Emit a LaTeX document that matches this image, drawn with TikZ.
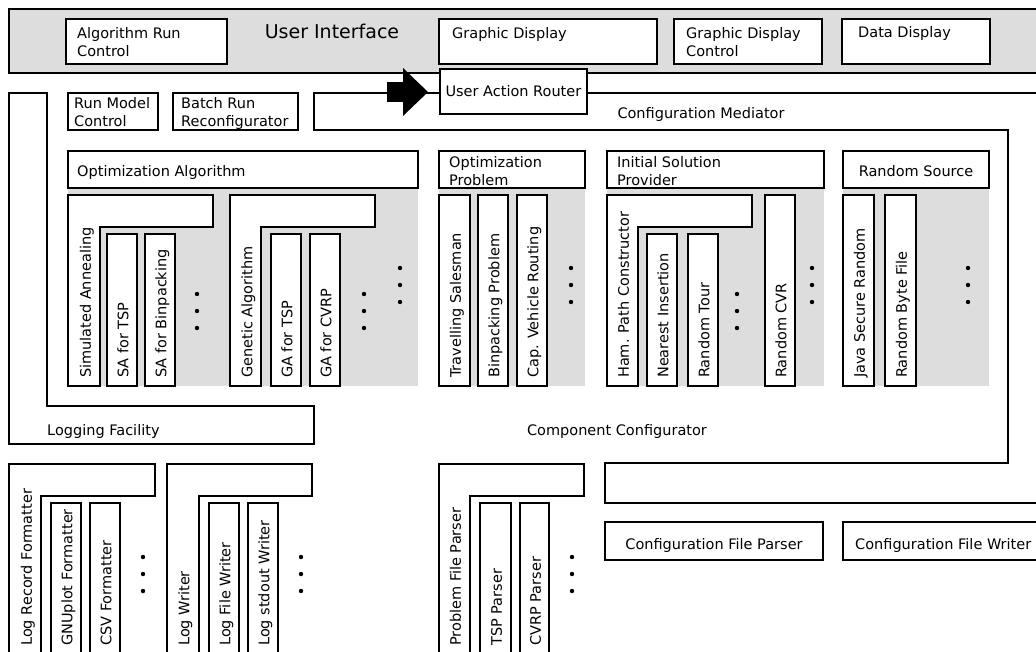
\documentclass[tikz,border=0pt]{standalone}
\usepackage{fontspec}
\setmainfont{DejaVu Sans}
\usetikzlibrary{arrows.meta}
\definecolor{panel}{RGB}{221,221,221}

\tikzset{
  box/.style={draw=black, fill=white, line width=1.8pt, line join=miter},
  edge/.style={draw=black, line width=1.8pt, line join=miter},
  txt/.style={font=\fontsize{14.5}{18.5}\selectfont, inner sep=0pt, align=left},
  vtxt/.style={font=\fontsize{14.5}{18.5}\selectfont, inner sep=0pt, rotate=90,
               anchor=west, text height=11pt, text depth=3.5pt},
  blockarrow/.style={line width=20pt,
               -{Triangle[length=25pt, width=48pt, line width=0pt]}},
}
% L-shaped component: outer left, top, right, step, inner left, bottom
\newcommand\lpart[6]{\draw[box] (#1,#2) -- (#3,#2) -- (#3,#4) -- (#5,#4) -- (#5,#6) -- (#1,#6) -- cycle;}
\newcommand\barbox[4]{\draw[box] (#1,#2) rectangle (#3,#4);}
\newcommand\dotcol[2]{\foreach \dy in {0,17,34} \fill (#1,#2+\dy) circle (2.2pt);}

\begin{document}
\begin{tikzpicture}[x=1pt, y=-1pt]
\clip (0,0) rectangle (1036,651);

% ---- user interface layer ----
\draw[box, fill=panel] (9,9) rectangle (1050,73);
\node[txt, font=\fontsize{19}{22}\selectfont, anchor=base] (ui) at (332,38.5) {User Interface};
\barbox{66}{19}{227}{64}
\node[txt, anchor=north west] (arc) at (77,27) {Algorithm Run\\Control};
\barbox{439}{19}{657}{64}
\node[txt, anchor=north west] (gd) at (452,27) {Graphic Display};
\barbox{674}{19}{822}{64}
\node[txt, anchor=north west] (gdc) at (686,27) {Graphic Display\\Control};
\barbox{842}{19}{990}{64}
\node[txt, anchor=north west] (dd) at (858,26) {Data Display};

% ---- configuration mediator outline ----
\draw[edge] (1050,93) -- (314,93) -- (314,130) -- (1008,130) -- (1008,463)
            -- (605,463) -- (605,503) -- (1050,503);
\node[txt, anchor=base] (cm) at (701,118) {Configuration Mediator};

% ---- user action router and incoming action ----
\node[box, txt, minimum width=147pt, minimum height=45pt, anchor=north west]
  (router) at (439,68) {User Action Router};
\coordinate (arrtail) at (387,92);
\draw[blockarrow, shorten >=11pt] (arrtail) -- (arrtail -| router.west);

% ---- logging facility ----
\draw[box] (9,93) -- (47,93) -- (47,406) -- (314,406) -- (314,444) -- (9,444) -- cycle;
\node[txt, anchor=base west] (lf) at (47,435) {Logging Facility};

% ---- run control ----
\barbox{68}{93}{158}{130}
\node[txt, anchor=north west] (rmc) at (74,97) {Run Model\\Control};
\barbox{173}{93}{298}{130}
\node[txt, anchor=north west] (brr) at (181,97) {Batch Run\\Reconfigurator};

\node[txt, anchor=base] (cc) at (617,435) {Component Configurator};

% ---- optimization algorithm ----
\fill[panel] (68,188) rectangle (418,386);
\barbox{68}{151}{418}{188}
\node[txt, anchor=base west] (oa) at (77,176) {Optimization Algorithm};
\lpart{68}{195}{213}{227}{100}{386}
\node[vtxt] (sa) at (87,378) {Simulated Annealing};
\barbox{107}{234}{137}{386}
\node[vtxt] (satsp) at (124.5,378) {SA for TSP};
\barbox{145}{234}{175}{386}
\node[vtxt] (sabp) at (162.5,378) {SA for Binpacking};
\dotcol{197}{294}
\lpart{230}{195}{375}{227}{261}{386}
\node[vtxt] (ga) at (248.5,378) {Genetic Algorithm};
\barbox{271}{234}{301}{386}
\node[vtxt] (gatsp) at (288.5,378) {GA for TSP};
\barbox{310}{234}{340}{386}
\node[vtxt] (gacvrp) at (327.5,378) {GA for CVRP};
\dotcol{364}{294}
\dotcol{400}{268}

% ---- optimization problem ----
\fill[panel] (439,188) rectangle (585,386);
\barbox{439}{151}{585}{188}
\node[txt, anchor=north west] (op) at (449,156) {Optimization\\Problem};
\barbox{439}{195}{470}{386}
\node[vtxt] (ts) at (457,378) {Travelling Salesman};
\barbox{478}{195}{508}{386}
\node[vtxt] (bpp) at (495.5,378) {Binpacking Problem};
\barbox{517}{195}{547}{386}
\node[vtxt] (cvr) at (534.5,378) {Cap. Vehicle Routing};
\dotcol{571}{268}

% ---- initial solution provider ----
\fill[panel] (607,188) rectangle (824,386);
\barbox{607}{151}{824}{188}
\node[txt, anchor=north west] (isp) at (617,156) {Initial Solution\\Provider};
\lpart{607}{195}{752}{227}{638}{386}
\node[vtxt] (ham) at (625,378) {Ham. Path Constructor};
\barbox{647}{234}{677}{386}
\node[vtxt] (ni) at (664.5,378) {Nearest Insertion};
\barbox{688}{234}{718}{386}
\node[vtxt] (rt) at (705.5,378) {Random Tour};
\dotcol{737}{294}
\barbox{765}{195}{795}{386}
\node[vtxt] (rcvr) at (782.5,378) {Random CVR};
\dotcol{812}{268}

% ---- random source ----
\fill[panel] (843,188) rectangle (989,386);
\barbox{843}{151}{989}{188}
\node[txt, anchor=base] (rs) at (916,176) {Random Source};
\barbox{843}{195}{874}{386}
\node[vtxt] (jsr) at (861,378) {Java Secure Random};
\barbox{885}{195}{916}{386}
\node[vtxt] (rbf) at (903,378) {Random Byte File};
\dotcol{968}{268}

% ---- configuration files ----
\barbox{605}{522}{823}{560}
\node[txt, anchor=base] (cfp) at (714,549) {Configuration File Parser};
\barbox{843}{522}{1050}{560}
\node[txt, anchor=base west] (cfw) at (855,549) {Configuration File Writer};

% ---- log record formatters ----
\lpart{9}{464}{155}{496}{41}{662}
\node[vtxt] (lrf) at (28,646) {Log Record Formatter};
\barbox{51}{503}{81}{662}
\node[vtxt] (gnu) at (68.5,646) {GNUplot Formatter};
\barbox{90}{503}{120}{662}
\node[vtxt] (csv) at (107.5,646) {CSV Formatter};
\dotcol{143}{557}

% ---- log writers ----
\lpart{167}{464}{312}{496}{199}{662}
\node[vtxt] (lw) at (185.5,646) {Log Writer};
\barbox{209}{503}{239}{662}
\node[vtxt] (lfw) at (226.5,646) {Log File Writer};
\barbox{248}{503}{278}{662}
\node[vtxt] (lsw) at (265.5,646) {Log stdout Writer};
\dotcol{301}{557}

% ---- problem file parsers ----
\lpart{439}{464}{584}{496}{470}{662}
\node[vtxt] (pfp) at (457,646) {Problem File Parser};
\barbox{480}{503}{511}{662}
\node[vtxt] (tspp) at (498,646) {TSP Parser};
\barbox{520}{503}{549}{662}
\node[vtxt] (cvrpp) at (537,646) {CVRP Parser};
\dotcol{572}{557}
\end{tikzpicture}
\end{document}
